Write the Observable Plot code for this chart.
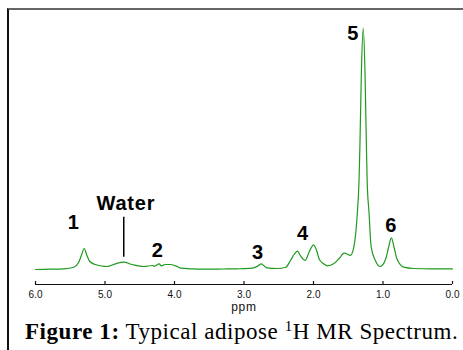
<!DOCTYPE html>
<html>
<head>
<meta charset="utf-8">
<script src="https://cdn.jsdelivr.net/npm/d3@7"></script>
<script src="https://cdn.jsdelivr.net/npm/@observablehq/plot@0.6"></script>
<style>
  html, body { margin: 0; padding: 0; background: #fff; }
  #wrap { position: relative; width: 463px; height: 350px; overflow: hidden; }
  #chart { position: absolute; left: 0; top: 0; }
  #frame { position: absolute; left: 7px; top: 8px; width: 470px; height: 360px;
           border-left: 2px solid #111; border-top: 2px solid #666; pointer-events: none; }
  #caption { position: absolute; left: 25px; top: 320px; white-space: nowrap; letter-spacing: 0.55px;
             font-family: "Liberation Serif", "Times New Roman", serif; font-size: 23px; line-height: 23px; color: #000; }
  #caption b { font-weight: bold; }
  #caption sup { font-size: 15px; vertical-align: 8px; line-height: 0; }
  #chart g[aria-label="text"] text { letter-spacing: 0.8px; }
</style>
</head>
<body>
<div id="wrap">
  <div id="chart"></div>
  <div id="frame"></div>
  <div id="caption"><b>Figure 1:</b> Typical adipose <sup>1</sup>H MR Spectrum.</div>
</div>
<script>
// Chemical shift (ppm) and signal intensity (arbitrary units)
const ppm = [6.00, 5.80, 5.59, 5.45, 5.38, 5.34, 5.30, 5.26, 5.22, 5.14, 5.05, 4.97, 4.85, 4.73, 4.61, 4.44,
  4.32, 4.29, 4.22, 4.19, 4.13, 4.06, 3.96, 3.91, 3.75, 3.58, 3.30, 3.10, 2.88, 2.80, 2.75, 2.70, 2.67,
  2.52, 2.40, 2.33, 2.28, 2.23, 2.19, 2.12, 2.06, 2.00, 1.95, 1.92, 1.86, 1.80, 1.71, 1.63, 1.56, 1.50,
  1.47, 1.42, 1.37, 1.345, 1.333, 1.31, 1.285, 1.26, 1.238, 1.228, 1.20, 1.17, 1.11, 1.04, 0.96, 0.92,
  0.88, 0.84, 0.80, 0.70, 0.56, 0.30, 0.00];
const intensity = [0, 0.3, 0.7, 2.3, 7, 14, 21, 14, 8, 5, 3.5, 3, 5.7, 7.3, 5, 3,
  4, 3.3, 5.7, 3.7, 5, 5, 3, 1.3, 0.6, 0.3, 0.5, 0.7, 1.3, 3.5, 5.7, 3, 1.7,
  1, 2.3, 9, 15, 18.3, 14, 9, 18, 24.7, 18, 10.7, 6, 3.7, 5.7, 11, 16.3, 15,
  14, 22.3, 55.7, 89, 121, 200, 241.5, 200, 121, 89, 55.7, 22.3, 9, 3, 10.7, 22,
  31.7, 22, 10.7, 2.3, 1, 0.7, 0.7];

// Peak labels
const peakNames = ["1", "Water", "2", "3", "4", "5", "6"];
const peakPpm   = [5.45, 4.70, 4.24, 2.80, 2.15, 1.43, 0.88];
const peakInt   = [46.7, 65.7, 19, 17.3, 35.7, 235.7, 44];

// Water marker
const waterPpm = [4.73];
const waterFrom = [12.3];
const waterTo = [52.3];

// Axis ticks
const tickValues = [6, 5, 4, 3, 2, 1, 0];
const tickLabels = ["6.0", "5.0", "4.0", "3.0", "2.0", "1.0", "0.0"];

const yMin = -15, yMax = 245;
const spectrum = ppm.map((p, i) => ({ppm: p, int: intensity[i]}));
const peaks = peakNames.map((t, i) => ({t, x: peakPpm[i], y: peakInt[i]}));
const water = waterPpm.map((p, i) => ({x: p, y1: waterFrom[i], y2: waterTo[i]}));

const chart = Plot.plot({
  width: 463,
  height: 315,
  marginLeft: 35,
  marginRight: 11,
  marginTop: 24,
  marginBottom: 31,
  style: {background: "transparent", fontFamily: "Liberation Sans, Arial, sans-serif"},
  x: {domain: [6, 0], label: null},
  y: {domain: [yMin, yMax], axis: null},
  marks: [
    Plot.axisX({ticks: tickValues, tickFormat: (d) => tickLabels[tickValues.indexOf(d)], tickSize: 0,
      tickPadding: 6, fontSize: 10, label: null, color: "#111"}),
    Plot.ruleY([yMin], {x1: tickValues[0], x2: tickValues[tickValues.length - 1], stroke: "#111", strokeWidth: 1.2}),
    Plot.ruleX(tickValues, {x: (d) => d, y1: yMin, y2: yMin + 3, stroke: "#111", strokeWidth: 1.2}),
    Plot.text(["ppm"], {frameAnchor: "bottom", dy: 26, lineAnchor: "bottom", fontSize: 12, fill: "#111"}),
    Plot.line(spectrum, {x: "ppm", y: "int", stroke: "#1f9a1f", strokeWidth: 1.2, curve: "monotone-x"}),
    Plot.ruleX(water, {x: "x", y1: "y1", y2: "y2", stroke: "#000", strokeWidth: 1.5}),
    Plot.text(peaks, {x: "x", y: "y", text: "t", fontSize: 20, fontWeight: "bold", fill: "#000",
      fontFamily: "Liberation Sans, Arial, sans-serif"})
  ]
});
document.getElementById("chart").appendChild(chart);
</script>
</body>
</html>
